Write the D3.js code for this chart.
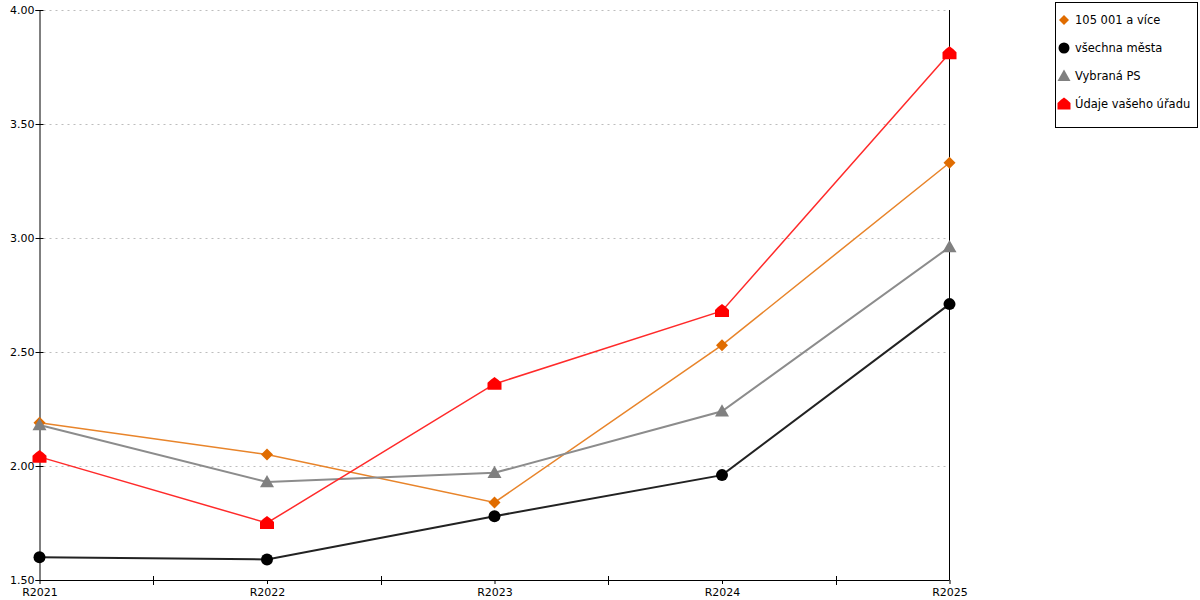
<!DOCTYPE html>
<html><head><meta charset="utf-8">
<script src="https://cdn.jsdelivr.net/npm/d3@7"></script>
<style>body{margin:0;background:#fff;}svg{display:block;font-family:"DejaVu Sans",Verdana,sans-serif;}</style>
</head><body>
<svg id="c" width="1200" height="600"></svg>
<script>
const categories = ["R2021","R2022","R2023","R2024","R2025"];
const seriesNames = ["105 001 a více","všechna města","Vybraná PS","Údaje vašeho úřadu"];
const valsOrange = [2.19, 2.05, 1.84, 2.53, 3.33];
const valsBlack  = [1.60, 1.59, 1.78, 1.96, 2.71];
const valsGray   = [2.18, 1.93, 1.97, 2.24, 2.96];
const valsRed    = [2.04, 1.75, 2.36, 2.68, 3.81];
const yTicks = [1.5, 2.0, 2.5, 3.0, 3.5, 4.0];

const series = [
  {name: seriesNames[0], values: valsOrange, line: "#e8842a", fill: "#e06c00", shape: "diamond", w: 1.5},
  {name: seriesNames[1], values: valsBlack,  line: "#222222", fill: "#000000", shape: "circle", w: 2},
  {name: seriesNames[2], values: valsGray,   line: "#8c8c8c", fill: "#808080", shape: "triangle", w: 2},
  {name: seriesNames[3], values: valsRed,    line: "#ff2a2a", fill: "#ff0000", shape: "house", w: 1.5}
];

const svg = d3.select("#c");
const L = 39.5, R = 949.5, T = 10, B = 580;
const x = d3.scalePoint().domain(categories).range([L, R]);
const y = d3.scaleLinear().domain([1.5, 4.0]).range([B, T]);

// grid
svg.append("g").selectAll("line").data(yTicks.filter(t => t > 1.5)).join("line")
  .attr("x1", L + 4).attr("x2", R).attr("y1", d => Math.round(y(d)) + 0.5).attr("y2", d => Math.round(y(d)) + 0.5)
  .attr("stroke", "#bdbdbd").attr("stroke-dasharray", "2,4").attr("stroke-width", 1);

// y axis
const yAxis = d3.axisLeft(y).tickValues(yTicks).tickFormat(d3.format(".2f")).tickSize(4).tickPadding(3);
const gy = svg.append("g").attr("transform", `translate(${L},0)`).call(yAxis);
gy.select(".domain").attr("stroke", "#000");
gy.selectAll(".tick line").attr("x2", 4).attr("x1", -4).attr("stroke", "#000");
gy.selectAll(".tick text").attr("font-size", 11).attr("fill", "#000").attr("font-family", "DejaVu Sans, Verdana, sans-serif").attr("x", -5);

// x axis
const xAxis = d3.axisBottom(x).tickSize(4).tickPadding(4);
const gx = svg.append("g").attr("transform", `translate(0,${B})`).call(xAxis);
gx.select(".domain").attr("stroke", "#000").attr("d", `M${L},0.5H${R}`);
gx.selectAll(".tick line").attr("stroke", "#000");
gx.selectAll(".tick text").attr("font-size", 11).attr("fill", "#000").attr("font-family", "DejaVu Sans, Verdana, sans-serif");
// between-category ticks
const mids = categories.slice(1).map((c, i) => (x(categories[i]) + x(c)) / 2);
gx.append("g").selectAll("line").data(mids).join("line")
  .attr("x1", d => Math.round(d) + 0.5).attr("x2", d => Math.round(d) + 0.5).attr("y1", -4).attr("y2", 5)
  .attr("stroke", "#000");

// right vertical line
svg.append("line").attr("x1", R).attr("x2", R).attr("y1", T).attr("y2", B).attr("stroke", "#000");

function shapePath(shape, s) {
  switch (shape) {
    case "diamond": return `M0,${-s}L${s},0L0,${s}L${-s},0Z`;
    case "triangle": return `M0,${-s}L${s},${s*0.75}L${-s},${s*0.75}Z`;
    case "house": return `M${-s},${s*0.85}L${-s},${-s*0.15}Q${-s*0.6},${-s*0.6} 0,${-s}Q${s*0.6},${-s*0.6} ${s},${-s*0.15}L${s},${s*0.85}Z`;
  }
}
function drawMarker(g, sr, cx, cy) {
  if (sr.shape === "circle") {
    g.append("circle").attr("cx", cx).attr("cy", cy).attr("r", 6).attr("fill", sr.fill);
  } else {
    const s = sr.shape === "diamond" ? 6 : 7;
    g.append("path").attr("d", shapePath(sr.shape, s)).attr("transform", `translate(${cx},${cy})`).attr("fill", sr.fill);
  }
}

const line = d3.line().x((d, i) => x(categories[i])).y(d => y(d));
series.forEach(sr => {
  svg.append("path").datum(sr.values).attr("d", line).attr("fill", "none")
    .attr("stroke", sr.line).attr("stroke-width", sr.w);
});
series.forEach(sr => {
  const g = svg.append("g");
  sr.values.forEach((v, i) => drawMarker(g, sr, x(categories[i]), y(v)));
});

// legend
const lg = svg.append("g");
lg.append("rect").attr("x", 1055.5).attr("y", 2.5).attr("width", 142).attr("height", 125)
  .attr("fill", "#fff").attr("stroke", "#000");
series.forEach((sr, i) => {
  const cy = 20 + i * 28;
  const g = lg.append("g");
  if (sr.shape === "circle") {
    g.append("circle").attr("cx", 1064).attr("cy", cy).attr("r", 5.5).attr("fill", sr.fill);
  } else {
    const s = sr.shape === "diamond" ? 5 : 6.5;
    g.append("path").attr("d", shapePath(sr.shape, s)).attr("transform", `translate(1064,${cy})`).attr("fill", sr.fill);
  }
  lg.append("text").attr("x", 1075).attr("y", cy + 4).attr("font-size", 11.5).attr("fill", "#000").text(sr.name);
});
</script>
</body></html>
